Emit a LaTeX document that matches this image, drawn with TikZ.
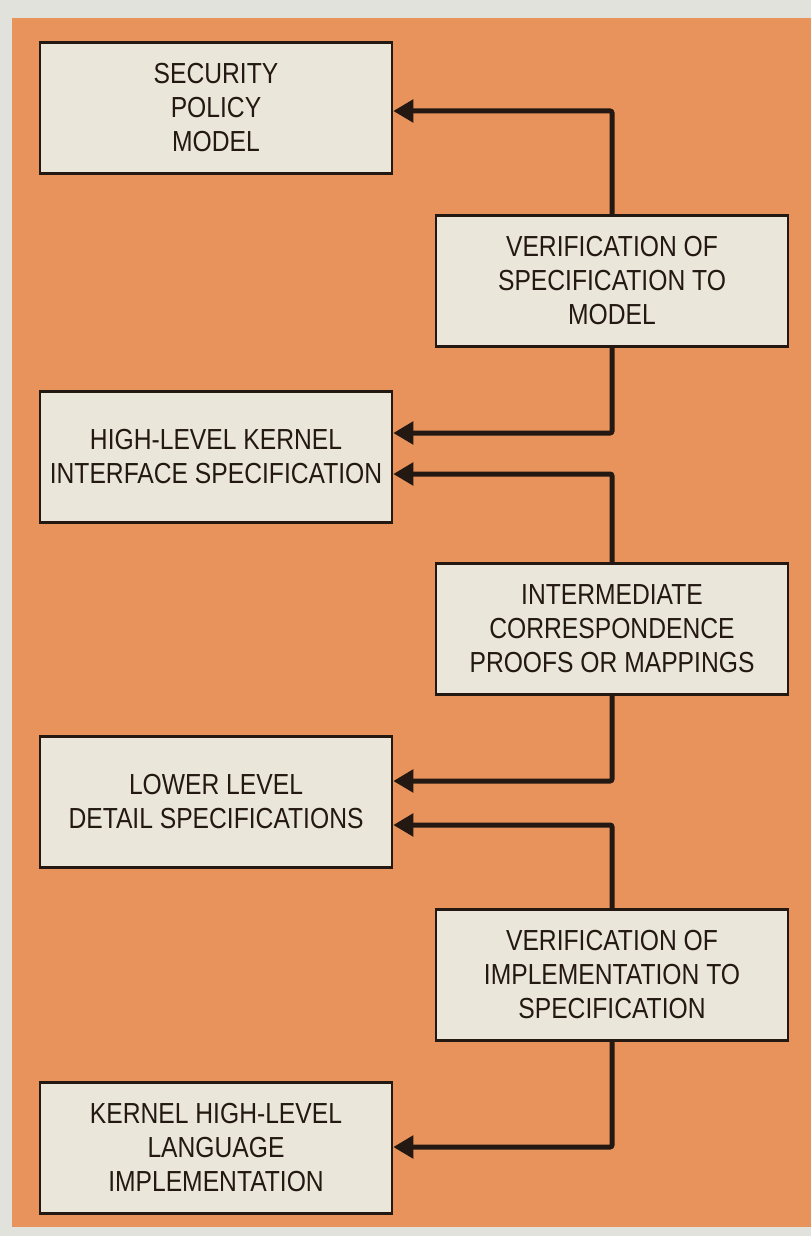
\documentclass[tikz,border=0pt]{standalone}
\usepackage{fontspec}
\setmainfont[FakeStretch=0.85]{Liberation Sans}
\usetikzlibrary{arrows.meta}
\definecolor{bgorange}{RGB}{232,146,92}
\definecolor{boxfill}{RGB}{234,230,218}
\definecolor{paper}{RGB}{226,226,220}
\definecolor{ink}{RGB}{35,25,18}
\tikzset{
  box/.style={draw=ink, line width=2.5pt, fill=boxfill, minimum width=352pt, minimum height=131pt,
    align=center, text=ink, font=\fontsize{29}{34}\selectfont, inner sep=0pt},
  conn/.style={draw=ink, line width=5pt, rounded corners=2pt, -{Triangle[length=20pt,width=22pt]}}
}
\begin{document}
\begin{tikzpicture}[x=1pt,y=-1pt]
\useasboundingbox (0,0) rectangle (811,1236);
\fill[paper] (0,0) rectangle (811,1236);
\fill[bgorange] (12,18) rectangle (811,1227);
\node[box] (spm) at (216,108) {SECURITY\\POLICY\\MODEL};
\node[box] (vsm) at (612,281) {VERIFICATION OF\\SPECIFICATION TO\\MODEL};
\node[box] (hlk) at (216,457) {HIGH-LEVEL KERNEL\\INTERFACE SPECIFICATION};
\node[box] (icp) at (612,629) {INTERMEDIATE\\CORRESPONDENCE\\PROOFS OR MAPPINGS};
\node[box] (lld) at (216,802) {LOWER LEVEL\\DETAIL SPECIFICATIONS};
\node[box] (vis) at (612,975) {VERIFICATION OF\\IMPLEMENTATION TO\\SPECIFICATION};
\node[box] (khl) at (216,1148) {KERNEL HIGH-LEVEL\\LANGUAGE\\IMPLEMENTATION};
\draw[conn] (vsm.north) |- ([yshift=-3pt]spm.east);
\draw[conn] (vsm.south) |- ([yshift=24pt]hlk.east);
\draw[conn] (icp.north) |- ([yshift=-17pt]hlk.east);
\draw[conn] (icp.south) |- ([yshift=21pt]lld.east);
\draw[conn] (vis.north) |- ([yshift=-23pt]lld.east);
\draw[conn] (vis.south) |- ([yshift=1pt]khl.east);
\end{tikzpicture}
\end{document}
